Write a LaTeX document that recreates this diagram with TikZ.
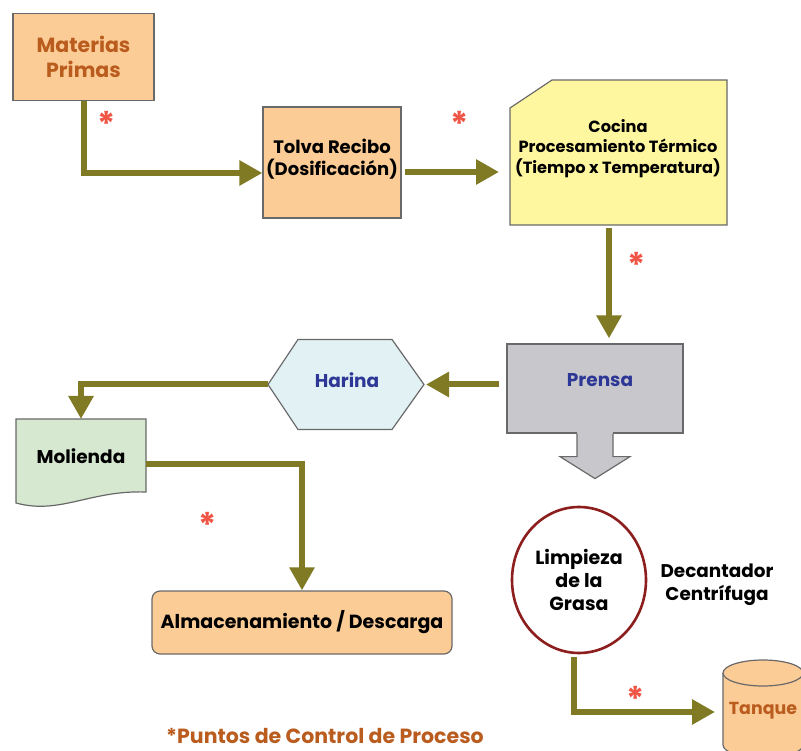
\documentclass[tikz,border=0pt]{standalone}
\usepackage{fontspec}
\setmainfont{Poppins}
\usetikzlibrary{arrows.meta,calc,shapes.geometric}
\definecolor{orangefill}{RGB}{252,204,150}
\definecolor{yellowfill}{RGB}{255,246,160}
\definecolor{grayfill}{RGB}{200,200,204}
\definecolor{bluefill}{RGB}{225,241,244}
\definecolor{greenfill}{RGB}{214,232,208}
\definecolor{olive}{RGB}{128,122,36}
\definecolor{bordergray}{RGB}{105,105,105}
\definecolor{browntext}{RGB}{185,92,30}
\definecolor{bluetext}{RGB}{45,55,150}
\definecolor{astred}{RGB}{240,85,70}
\definecolor{circlered}{RGB}{140,30,30}
\begin{document}
\begin{tikzpicture}[x=1pt,y=-1pt,
  box/.style={draw=bordergray,line width=1.2pt,inner sep=0pt},
  shp/.style={draw=bordergray,line width=1.2pt},
  anchorbox/.style={inner sep=0pt,outer sep=0pt},
  lbl/.style={font=\bfseries\fontsize{18.5}{22}\selectfont,align=center},
  flow/.style={draw=olive,line width=6pt,-{Triangle[length=23pt,width=24pt]}},
  ast/.style={text=astred,font=\bfseries\fontsize{34}{34}\selectfont,inner sep=0pt}]
\fill[white] (0,0) rectangle (801,751);
\useasboundingbox (0,0) rectangle (801,751);
\clip (0,0) rectangle (801,751);

% Materias Primas
\node[box,fill=orangefill,minimum width=141pt,minimum height=87pt,text=browntext,
  font=\bfseries\fontsize{20.5}{25}\selectfont,align=center] (mat) at (83.5,57) {Materias\\Primas};

% Tolva
\node[box,fill=orangefill,minimum width=138pt,minimum height=111pt] (tol) at (332,162.5) {};
\node[lbl,font=\bfseries\fontsize{18}{22}\selectfont] (tolT) at (332,159.5) {Tolva Recibo\\(Dosificación)};

% Cocina
\node[anchorbox,minimum width=217pt,minimum height=145pt] (coc) at (618.5,152.5) {};
\filldraw[shp,fill=yellowfill] ($(coc.north west)+(0,28)$) -- ($(coc.north west)+(42,0)$)
  -- (coc.north east) -- (coc.south east) -- (coc.south west) -- cycle;
\node[lbl,font=\bfseries\fontsize{16.2}{20.5}\selectfont] (cocT) at (618,148.5)
  {Cocina\\Procesamiento Térmico\\(Tiempo x Temperatura)};

% Prensa
\node[box,fill=grayfill,minimum width=176pt,minimum height=89pt] (pre) at (595,388.5) {};
\fill[grayfill] ($(pre.south)+(-18,-2)$) rectangle ($(pre.south)+(18,1)$);
\filldraw[shp,fill=grayfill] ($(pre.south)+(-18,0)$) -- ($(pre.south)+(-18,23)$)
  -- ($(pre.south)+(-35,23)$) -- ($(pre.south)+(0,45)$) -- ($(pre.south)+(35,23)$)
  -- ($(pre.south)+(18,23)$) -- ($(pre.south)+(18,0)$);
\node[lbl,text=bluetext] (preT) at (600,380) {Prensa};

% Harina
\node[anchorbox,minimum width=156pt,minimum height=90pt] (har) at (346,384.5) {};
\filldraw[shp,fill=bluefill] (har.west) -- ($(har.north west)+(30,0)$) -- ($(har.north east)+(-32,0)$)
  -- (har.east) -- ($(har.south east)+(-32,0)$) -- ($(har.south west)+(30,0)$) -- cycle;
\node[lbl,text=bluetext] (harT) at (347,380) {Harina};

% Molienda
\node[anchorbox,minimum width=130pt,minimum height=86pt] (mol) at (81,462) {};
\filldraw[shp,fill=greenfill] (mol.north west) -- (mol.north east) -- ($(mol.north east)+(0,73)$)
  .. controls ($(mol.north east)+(-56,-2+73)$) and ($(mol.north west)+(44,96)$) .. ($(mol.north west)+(0,84)$) -- cycle;
\node[lbl] (molT) at (81,456) {Molienda};

% Almacenamiento
\node[box,rounded corners=8pt,fill=orangefill,minimum width=300pt,minimum height=63pt,
  font=\bfseries\fontsize{19}{22}\selectfont] (alm) at (302,622.5) {Almacenamiento / Descarga};

% Limpieza
\node[ellipse,draw=circlered,line width=2.6pt,fill=white,minimum width=134pt,minimum height=146pt,
  inner sep=0pt,align=center,font=\bfseries\fontsize{19}{23}\selectfont] (lim) at (579,580) {Limpieza\\de la\\Grasa};
\node[align=center,font=\bfseries\fontsize{18.4}{23}\selectfont] (dec) at (717,585) {Decantador\\Centrífuga};

% Tanque
\node[anchorbox,minimum width=80pt,minimum height=104pt] (tan) at (763,712) {};
\filldraw[shp,fill=orangefill] (723,673) -- (723,745) arc[start angle=180,end angle=360,x radius=40pt,y radius=13pt]
  -- (803,673) arc[start angle=0,end angle=180,x radius=40pt,y radius=13pt] -- cycle;
\draw[shp] (723,673) arc[start angle=180,end angle=360,x radius=40pt,y radius=13pt];
\node[text=browntext,font=\bfseries\fontsize{17.4}{20}\selectfont] (tanT) at (763,711) {Tanque};

% Footer
\node[text=browntext,font=\bfseries\fontsize{20.5}{24}\selectfont] (foot) at (325,736) {*Puntos de Control de Proceso};

% Connectors
\coordinate (c1) at ([xshift=-9.5pt,yshift=-3pt]coc.south);
\draw[flow] (mat.south) |- ([yshift=-10.5pt]tol.west);
\draw[flow,shorten <=3pt,shorten >=11pt] ([yshift=-9.5pt]tol.east) -- ([yshift=-9.5pt]tol.east -| coc.west);
\draw[flow,shorten >=5pt] (c1) -- (c1 |- pre.north);
\draw[flow,shorten <=7pt,shorten >=2pt] (pre.west |- har.east) -- (har.east);
\draw[flow] (har.west) -| (mol.north);
\draw[flow] ([yshift=-2pt]mol.east) -| (alm.north);
\draw[flow,shorten <=3pt,shorten >=8pt] ([xshift=-5pt]lim.south) |- (tan.west);

% Control points
\node[ast] (a1) at (107,124) {*};
\node[ast] (a2) at (460,124) {*};
\node[ast] (a3) at (637,265) {*};
\node[ast] (a4) at (208,525) {*};
\node[ast] (a5) at (636,699) {*};
\end{tikzpicture}
\end{document}
